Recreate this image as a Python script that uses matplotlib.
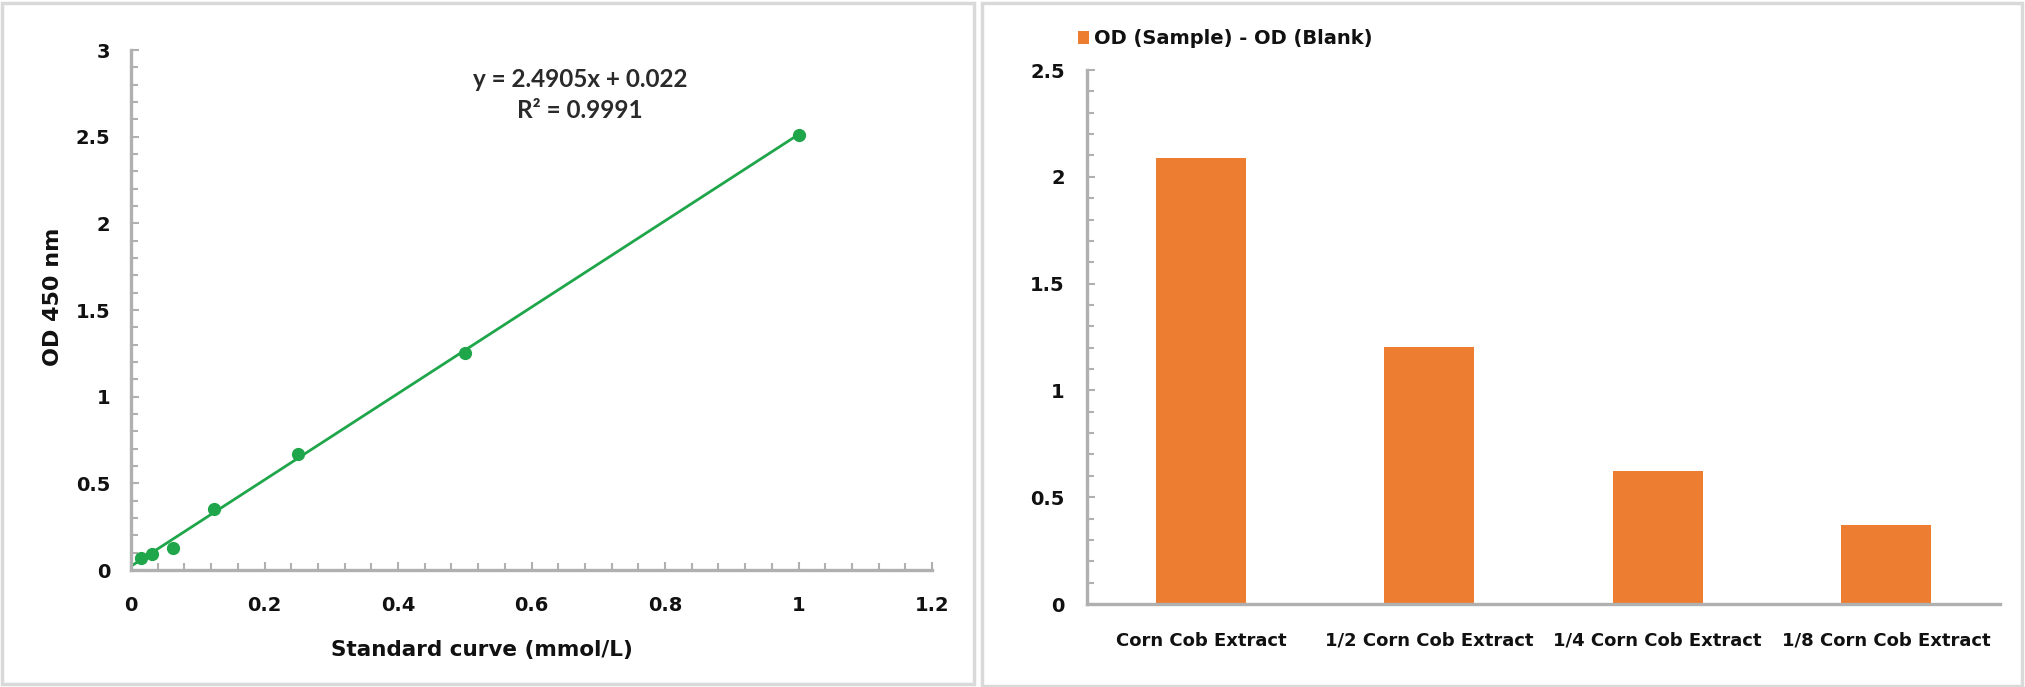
import matplotlib
matplotlib.use("Agg")
import matplotlib.pyplot as plt
import numpy as np
from matplotlib.patches import Rectangle
from matplotlib.ticker import MultipleLocator, FuncFormatter

# ---- data ----
std_conc = [1.0, 0.5, 0.25, 0.125, 0.0625, 0.03125, 0.015625]
std_od = [2.51, 1.25, 0.67, 0.35, 0.125, 0.09, 0.07]
fit_slope = 2.4905
fit_intercept = 0.022
fit_r2 = 0.9991

categories = ["Corn Cob Extract", "1/2 Corn Cob Extract", "1/4 Corn Cob Extract", "1/8 Corn Cob Extract"]
sample_od = [2.09, 1.205, 0.625, 0.37]
legend_label = "OD (Sample) - OD (Blank)"

W, H = 2025, 687
fig = plt.figure(figsize=(W / 100, H / 100), dpi=100)
fig.patch.set_facecolor("white")

def px_axes(x0, y_top, x1, y_bot):
    return fig.add_axes([x0 / W, 1 - y_bot / H, (x1 - x0) / W, (y_bot - y_top) / H])

# panel borders
border = "#d9d9d9"
fig.add_artist(Rectangle((2 / W, 3 / H), (974 - 2) / W, (684 - 3) / H, transform=fig.transFigure,
                         fill=False, edgecolor=border, linewidth=2.5))
fig.add_artist(Rectangle((982 / W, 1 / H), (2022 - 982) / W, (684 - 1) / H, transform=fig.transFigure,
                         fill=False, edgecolor=border, linewidth=2.5))

FONT = "DejaVu Sans"
label_font = dict(family=FONT, weight="bold")
axis_gray = "#b0b0b0"
green = "#1fa64a"
orange = "#ed7d31"

def fmt(v, pos):
    s = f"{v:.1f}"
    return s[:-2] if s.endswith(".0") else s

def style_axes(ax, fs):
    for s in ["top", "right"]:
        ax.spines[s].set_visible(False)
    for s in ["left", "bottom"]:
        ax.spines[s].set_color(axis_gray)
        ax.spines[s].set_linewidth(2.4)
    ax.tick_params(which="both", direction="in", color=axis_gray, width=1.5, labelsize=fs,
                   labelcolor="#111111")
    ax.tick_params(which="major", length=6)
    ax.tick_params(which="minor", length=5)
    for lab in ax.get_xticklabels() + ax.get_yticklabels():
        lab.set_fontfamily(FONT)
        lab.set_fontweight("bold")

# ---- left: standard curve ----
ax1 = px_axes(131, 50, 932, 570)
ax1.set_xlim(0, 1.2)
ax1.set_ylim(0, 3)
ax1.xaxis.set_major_locator(MultipleLocator(0.2))
ax1.xaxis.set_minor_locator(MultipleLocator(0.04))
ax1.yaxis.set_major_locator(MultipleLocator(0.5))
ax1.yaxis.set_minor_locator(MultipleLocator(0.1))
ax1.xaxis.set_major_formatter(FuncFormatter(fmt))
ax1.yaxis.set_major_formatter(FuncFormatter(fmt))
xs = np.array([0.0, max(std_conc)])
ax1.plot(xs, fit_slope * xs + fit_intercept, color=green, linewidth=2.0, zorder=2)
ax1.plot(std_conc, std_od, "o", color=green, markersize=8.5, zorder=3)
style_axes(ax1, 14)
ax1.tick_params(axis="x", pad=19)
ax1.tick_params(axis="y", pad=15)
ax1.set_xlabel("Standard curve (mmol/L)", fontsize=15.5, color="#111111", va="center", **label_font)
ax1.xaxis.set_label_coords((482 - 131) / 801, -(650 - 570) / 520)
ax1.set_ylabel("OD 450 nm", fontsize=16, color="#111111", va="center", **label_font)
ax1.yaxis.set_label_coords((53 - 131) / 801, (570 - 297) / 520)
ax1.text(0.673, 2.74, f"y = {fit_slope}x + {fit_intercept}\nR\u00b2 = {fit_r2}", ha="center", va="center",
         fontsize=17.5, family="Lato", weight="bold", linespacing=1.45, color="#2a2a2a")

# ---- right: bar chart ----
ax2 = px_axes(1087, 70, 2000, 604)
xpos = np.arange(len(categories))
ax2.bar(xpos, sample_od, width=0.395, color=orange, zorder=2, label=legend_label)
ax2.set_xlim(-0.5, len(categories) - 0.5)
ax2.set_ylim(0, 2.5)
ax2.yaxis.set_major_locator(MultipleLocator(0.5))
ax2.yaxis.set_minor_locator(MultipleLocator(0.1))
ax2.yaxis.set_major_formatter(FuncFormatter(fmt))
ax2.set_xticks(xpos)
ax2.set_xticklabels(categories)
style_axes(ax2, 14)
ax2.tick_params(axis="x", length=0, pad=20, labelsize=13)
ax2.tick_params(axis="y", pad=16)
leg = ax2.legend(loc="lower left", bbox_to_anchor=((1070 - 1087) / 913, (604 - 56) / 534), frameon=False,
                 handlelength=0.6, handleheight=0.7, handletextpad=0.25, borderaxespad=0,
                 prop=dict(family=FONT, weight="bold", size=14))
for t in leg.get_texts():
    t.set_color("#111111")

fig.savefig("out.png", dpi=100, facecolor="white")
